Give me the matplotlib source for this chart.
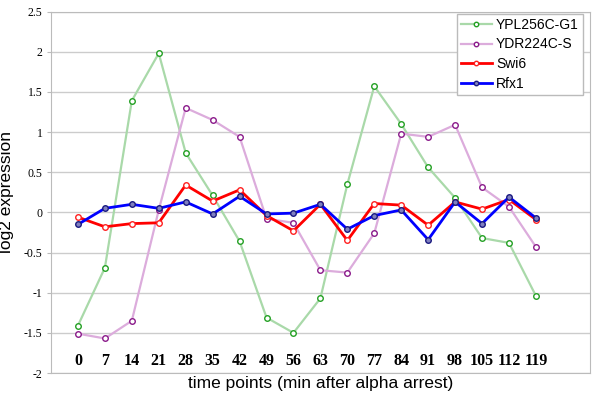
import numpy as np
import matplotlib.pyplot as plt

times = [0, 7, 14, 21, 28, 35, 42, 49, 56, 63, 70, 77, 84, 91, 98, 105, 112, 119]

ypl256c = [-1.41, -0.69, 1.39, 1.98, 0.74, 0.21, -0.36, -1.31, -1.50, -1.07,
           0.35, 1.57, 1.10, 0.56, 0.18, -0.32, -0.38, -1.04]
ydr224c = [-1.51, -1.57, -1.35, 0.03, 1.30, 1.15, 0.94, -0.08, -0.13, -0.72,
           -0.75, -0.26, 0.98, 0.94, 1.09, 0.31, 0.07, -0.43]
swi6 = [-0.06, -0.18, -0.14, -0.13, 0.34, 0.14, 0.28, -0.04, -0.23, 0.10,
        -0.35, 0.11, 0.09, -0.16, 0.13, 0.04, 0.16, -0.09]
rfx1 = [-0.15, 0.05, 0.10, 0.05, 0.13, -0.02, 0.20, -0.02, -0.01, 0.10,
        -0.21, -0.04, 0.03, -0.34, 0.13, -0.14, 0.19, -0.07]

fig = plt.figure(figsize=(6, 4.03), dpi=100)
ax = fig.add_axes([0.085, 0.0744, 0.898, 0.897])

x = np.arange(len(times))
ax.plot(x, ypl256c, color='#a9d9a9', lw=1.6, marker='o', ms=4,
        mfc='white', mec='#23a023', mew=1.0, label='YPL256C-G1')
ax.plot(x, ydr224c, color='#dcacdc', lw=1.6, marker='o', ms=4,
        mfc='white', mec='#8a1a8a', mew=1.0, label='YDR224C-S')
ax.plot(x, swi6, color='#ff0000', lw=2, marker='o', ms=4,
        mfc='white', mec='#ff2020', mew=1.0, label='Swi6')
ax.plot(x, rfx1, color='#0000ff', lw=2, marker='o', ms=4,
        mfc='#8080c0', mec='#1a1a80', mew=1.0, label='Rfx1')

# time labels drawn inside the plot
for xi, t in zip(x, times):
    ax.text(xi, -1.85, str(t), ha='center', va='center', fontsize=11.5,
            fontweight='bold', family='Liberation Serif')

ax.set_xlim(-1, 19)
ax.set_ylim(-2, 2.5)
ax.set_yticks(np.arange(-2, 2.51, 0.5))
ax.set_yticklabels(['-2', '-1.5', '-1', '-0.5', '0', '0.5', '1', '1.5', '2', '2.5'],
                   family='Liberation Serif', fontsize=8.5)
ax.set_xticks([])
ax.grid(axis='y', color='#cccccc', lw=1)
ax.set_axisbelow(True)
ax.tick_params(axis='y', length=3, color='#bbbbbb', pad=3)
for s in ax.spines.values():
    s.set_color('#bbbbbb')

ax.set_ylabel('log2 expression', family='Liberation Sans', fontsize=12.5)
ax.yaxis.set_label_coords(-0.069, 0.5)
ax.set_xlabel('time points (min after alpha arrest)', family='Liberation Sans',
              fontsize=12.5, labelpad=2)

leg = ax.legend(loc='upper right', prop={'family': 'Liberation Sans', 'size': 10},
                fancybox=False, edgecolor='#bbbbbb', framealpha=1,
                borderpad=0.3, labelspacing=0.4, handlelength=2.2,
                handletextpad=0.3, markerscale=0.8, borderaxespad=0,
                bbox_to_anchor=(0.987, 0.994))
leg.get_frame().set_linewidth(1)

fig.savefig('out.png', dpi=100)
